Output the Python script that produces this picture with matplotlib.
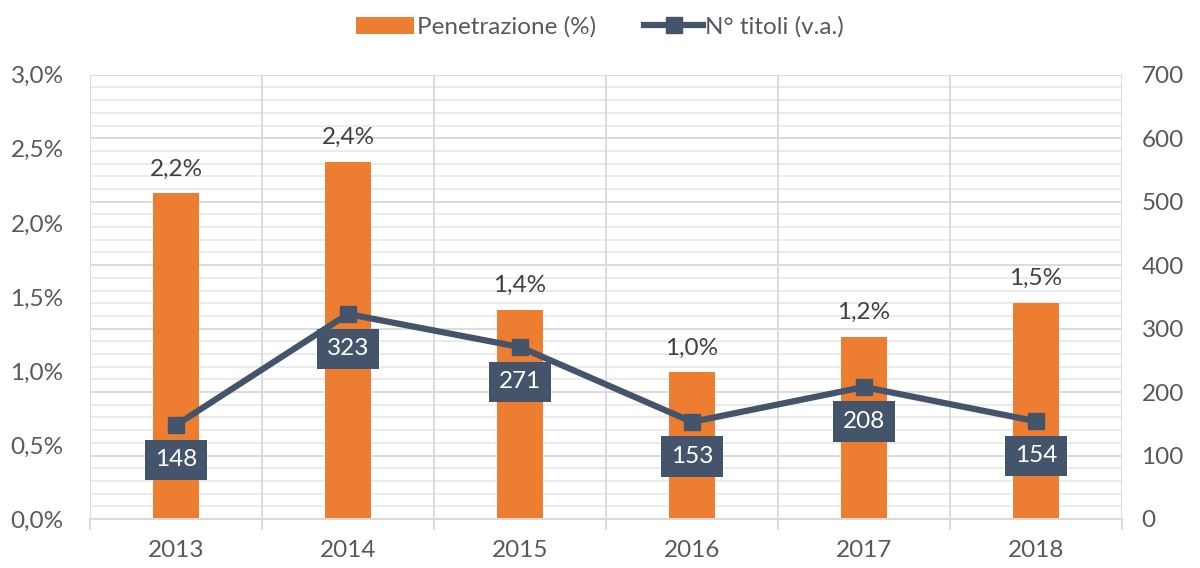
import matplotlib
matplotlib.use("Agg")
import matplotlib.pyplot as plt
import numpy as np

plt.rcParams['font.family'] = ['Lato', 'DejaVu Sans']

# data
anni = ['2013', '2014', '2015', '2016', '2017', '2018']
penetrazione = [2.20, 2.41, 1.41, 0.99, 1.23, 1.46]  # %
titoli = [148, 323, 271, 153, 208, 154]

orange = '#ED7D31'
navy = '#44546A'
grey_txt = '#595959'
grid_major = '#D9D9D9'
grid_minor = '#E9E9E9'
fs = 17.5

fig = plt.figure(figsize=(12, 5.68), dpi=100)
ax = fig.add_axes([0.075, 0.0863, 0.86, 0.782])
ax2 = ax.twinx()

x = np.arange(len(anni))
ax.set_xlim(-0.5, len(anni) - 0.5)
ax.set_ylim(0, 3.0)
ax2.set_ylim(0, 700)

# horizontal grid follows the right axis (step 100, minor 20)
for v in range(0, 701, 20):
    col = grid_major if v % 100 == 0 else grid_minor
    ax.axhline(v * 3.0 / 700, color=col, lw=1.3, zorder=0)

bars = ax.bar(x, penetrazione, width=0.27, color=orange, zorder=2, label='Penetrazione (%)')
ax.bar_label(bars, labels=[f'{v:.1f}%'.replace('.', ',') for v in penetrazione],
             padding=10, fontsize=fs, color='#404040')

ax2.plot(x, titoli, color=navy, lw=4.5, marker='s', markersize=11, zorder=3,
         label='N° titoli (v.a.)')
for xi, v in zip(x, titoli):
    ax2.annotate(str(v), (xi, v), xytext=(0, -25), textcoords='offset points',
                 ha='center', va='center', fontsize=fs, color='white',
                 bbox=dict(boxstyle='square,pad=0.4', fc=navy, ec='none'))

# left axis
ax.set_yticks(np.arange(0, 3.01, 0.5))
ax.set_yticklabels([f'{v:.1f}%'.replace('.', ',') for v in np.arange(0, 3.01, 0.5)])
ax.tick_params(axis='y', length=0, pad=19, labelsize=fs, labelcolor=grey_txt)

# right axis
ax2.set_yticks(range(0, 701, 100))
ax2.tick_params(axis='y', length=0, pad=14, labelsize=fs, labelcolor=grey_txt)

# x axis: labels at centres, ticks + vertical grid at boundaries
ax.set_xticks(x)
ax.set_xticklabels(anni)
ax.tick_params(axis='x', which='major', length=0, pad=15, labelsize=fs, labelcolor=grey_txt)
ax.set_xticks(np.arange(-0.5, len(anni), 1.0), minor=True)
ax.tick_params(axis='x', which='minor', length=8, width=1.3, color=grid_major)
ax.grid(axis='x', which='minor', color=grid_major, lw=1.3, zorder=0)
ax.set_axisbelow(True)

for a in (ax, ax2):
    for s in ('top', 'right', 'left'):
        a.spines[s].set_visible(False)
    a.spines['bottom'].set_color(grid_major)
    a.spines['bottom'].set_linewidth(1.3)

h1, l1 = ax.get_legend_handles_labels()
h2, l2 = ax2.get_legend_handles_labels()
fig.legend(h1 + h2, l1 + l2, loc='upper center', bbox_to_anchor=(0.5, 1.01), ncol=2,
           frameon=False, fontsize=fs, labelcolor=grey_txt, handlelength=2.4,
           handletextpad=0.1, columnspacing=2.0)

fig.savefig('out.png', dpi=100, facecolor='white')
